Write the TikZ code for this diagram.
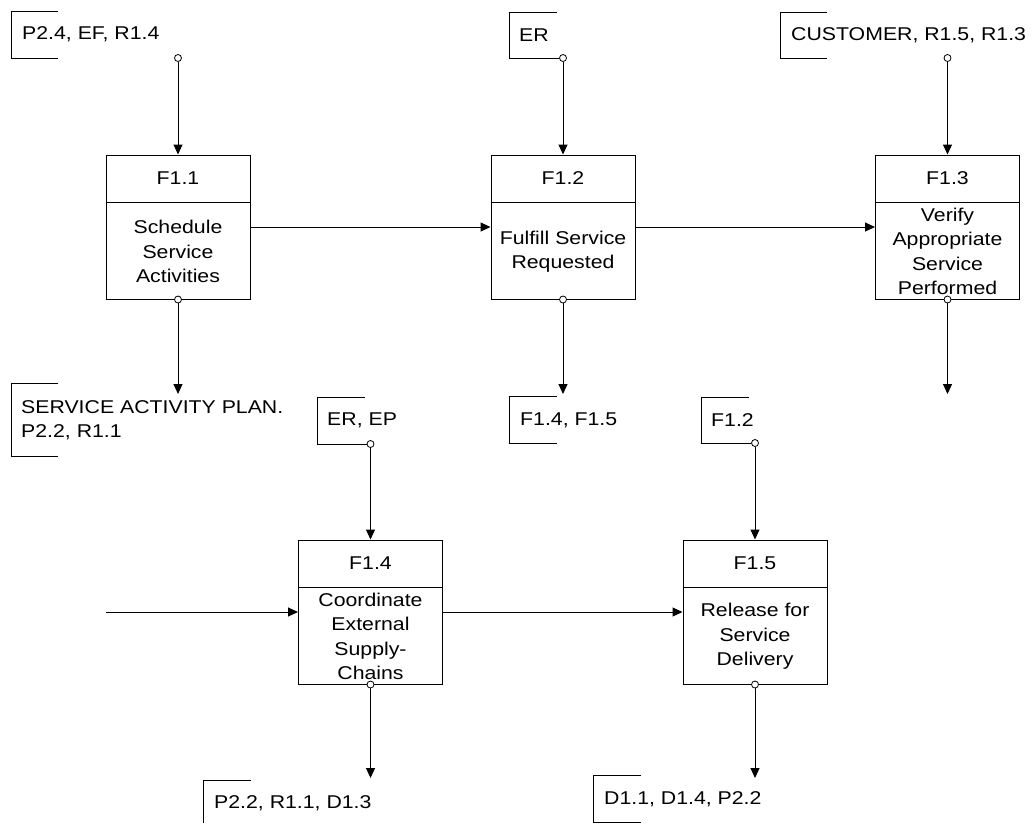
\documentclass[tikz,border=0pt]{standalone}
\usepackage{fontspec}
\setmainfont{Liberation Sans}[FakeStretch=1.15]
\usetikzlibrary{arrows.meta}
\tikzset{
  base/.style={font=\fontsize{18.5}{24.5}\selectfont},
  fbox/.style={draw, line width=1pt, minimum width=144pt, minimum height=144pt, inner sep=0pt},
  txt/.style={base, align=center, inner sep=0pt},
  note/.style={base, align=left, inner sep=0pt, anchor=west},
  port/.style={circle, draw, fill=white, line width=0.8pt, minimum size=7pt, inner sep=0pt},
  flow/.style={line width=1pt, -{Triangle[length=10pt,width=9pt]}},
  brk/.style={line width=1pt},
}
\begin{document}
\begin{tikzpicture}[x=1pt,y=-1pt]
\useasboundingbox (0,0) rectangle (1032,823);

% function boxes
\node[fbox] (f11) at (178,227) {};
\node[fbox] (f12) at (563,227) {};
\node[fbox] (f13) at (947.5,227) {};
\node[fbox] (f14) at (370.5,612) {};
\node[fbox] (f15) at (755,612) {};

\foreach \b in {f11,f12,f13,f14,f15}{
  \draw[line width=1pt] ([yshift=-48pt]\b.north west) -- ([yshift=-48pt]\b.north east);
}

\node[txt] (h11) at ([yshift=-24pt]f11.north) {F1.1};
\node[txt] (h12) at ([yshift=-24pt]f12.north) {F1.2};
\node[txt] (h13) at ([yshift=-24pt]f13.north) {F1.3};
\node[txt] (h14) at ([yshift=-24pt]f14.north) {F1.4};
\node[txt] (h15) at ([yshift=-24pt]f15.north) {F1.5};

\node[txt] (b11) at ([yshift=48pt]f11.south) {Schedule\\Service\\Activities};
\node[txt] (b12) at ([yshift=48pt]f12.south) {Fulfill Service\\Requested};
\node[txt] (b13) at ([yshift=48pt]f13.south) {Verify\\Appropriate\\Service\\Performed};
\node[txt] (b14) at ([yshift=48pt]f14.south) {Coordinate\\External\\Supply-\\Chains};
\node[txt] (b15) at ([yshift=48pt]f15.south) {Release for\\Service\\Delivery};

% ports
\node[port] (p11t) at (f11.north |- 0,58) {};
\node[port] (p12t) at (f12.north |- 0,58) {};
\node[port] (p13t) at (f13.north |- 0,58) {};
\node[port] (p14t) at (f14.north |- 0,444) {};
\node[port] (p15t) at (f15.north |- 0,443) {};
\node[port] (p11b) at (f11.south) {};
\node[port] (p12b) at (f12.south) {};
\node[port] (p13b) at (f13.south) {};
\node[port] (p14b) at (f14.south) {};
\node[port] (p15b) at (f15.south) {};

% free ends
\coordinate (o11) at (f11.south |- 0,394);
\coordinate (o12) at (f12.south |- 0,394);
\coordinate (o13) at (f13.south |- 0,394);
\coordinate (o14) at (f14.south |- 0,778);
\coordinate (o15) at (f15.south |- 0,778);
\coordinate (i14) at (106,612);

% connectors
\draw[flow] (p11t) -- (f11);
\draw[flow] (p12t) -- (f12);
\draw[flow] (p13t) -- (f13);
\draw[flow] (p14t) -- (f14);
\draw[flow] (p15t) -- (f15);
\draw[flow] (p11b) -- (o11);
\draw[flow] (p12b) -- (o12);
\draw[flow] (p13b) -- (o13);
\draw[flow] (p14b) -- (o14);
\draw[flow] (p15b) -- (o15);
\draw[flow] (f11) -- (f12);
\draw[flow] (f12) -- (f13);
\draw[flow] (i14) -- (f14);
\draw[flow] (f14) -- (f15);

% annotations
\node[note] (nP24) at (22,34.5) {P2.4, EF, R1.4};
\draw[brk] (58,11) -| (11,58) -- (58,58);

\node[note] (nER) at (519,35) {ER};
\draw[brk] (557,12) -| (509,58) -- (p12t);

\node[note] (nCU) at (791,35) {CUSTOMER, R1.5, R1.3};
\draw[brk] (827,12) -| (780,58) -- (827,58);

\node[note] (nSA) at (21,420) {SERVICE ACTIVITY PLAN.\\P2.2, R1.1};
\draw[brk] (58,383) -| (11,456) -- (58,456);

\node[note] (nF45) at (520,420) {F1.4, F1.5};
\draw[brk] (557,396) -| (509,443) -- (557,443);

\node[note] (nEREP) at (327,420) {ER, EP};
\draw[brk] (365,397) -| (317,444) -- (p14t);

\node[note] (nF12) at (711,420) {F1.2};
\draw[brk] (749,397) -| (701,443) -- (p15t);

\node[note] (nP22) at (214,803) {P2.2, R1.1, D1.3};
\draw[brk] (251,780) -| (203,823);

\node[note] (nD11) at (604,799) {D1.1, D1.4, P2.2};
\draw[brk] (641,775) -| (593,822) -- (641,822);
\end{tikzpicture}
\end{document}
